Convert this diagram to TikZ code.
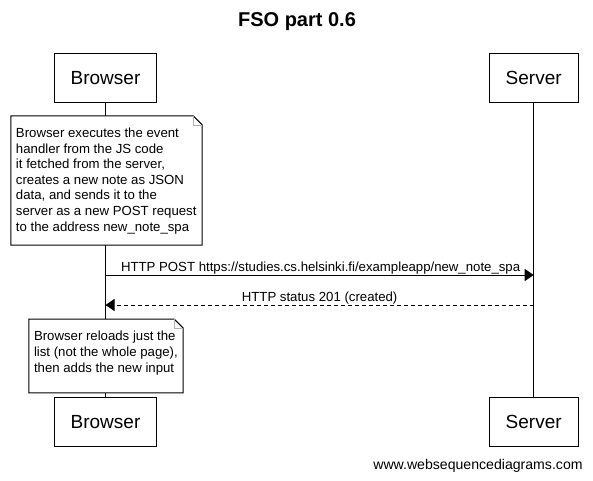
\documentclass[tikz,border=0pt]{standalone}
\usepackage{fontspec}
\setmainfont{Liberation Sans}
\usetikzlibrary{arrows.meta}
\begin{document}
\begin{tikzpicture}[x=1pt,y=-1pt,
  actor/.style={draw, line width=1pt, fill=white, inner sep=0pt, minimum height=49pt, font=\fontsize{19}{23}\selectfont},
  notebox/.style={fill=white, inner sep=0pt},
  noteline/.style={draw, line width=1pt, line join=miter},
  foldline/.style={draw=gray!60, line width=0.6pt},
  notetext/.style={anchor=north west, inner sep=0pt, align=left, font=\fontsize{13.2}{15.6}\selectfont},
  life/.style={line width=1pt},
  msg/.style={line width=1pt, -{Triangle[length=9pt,width=12pt]}},
  reply/.style={msg, dash pattern=on 4pt off 3pt},
  msglabel/.style={font=\fontsize{13.2}{15.6}\selectfont, inner sep=0pt}
]
\useasboundingbox (0,0) rectangle (593,480);
\fill[white] (0,0) rectangle (593,480);
\node[font=\fontsize{20}{24}\selectfont\bfseries] (title) at (297,22) {FSO part 0.6};
\node[actor, minimum width=102pt] (bt) at (105.5,77.7) {Browser};
\node[actor, minimum width=89pt] (st) at (533.7,77.7) {Server};
\node[actor, minimum width=102pt] (bb) at (105.5,421.7) {Browser};
\node[actor, minimum width=89pt] (sb) at (533.7,421.7) {Server};
\draw[life] (bt) -- (bb);
\draw[life] (st) -- (sb);
% note 1
\node[notebox, minimum width=191pt, minimum height=129pt] (n1) at (106.5,180.5) {};
\draw[noteline] (n1.north west) -- ([xshift=-9pt]n1.north east) -- ([yshift=-9pt]n1.north east) -- (n1.south east) -- (n1.south west) -- cycle;
\draw[foldline] ([xshift=-9pt]n1.north east) -- ([xshift=-9pt,yshift=-9pt]n1.north east) -- ([yshift=-9pt]n1.north east);
\node[notetext] (t1) at ([xshift=5pt,yshift=-12pt]n1.north west) {Browser executes the event\\handler from the JS code\\it fetched from the server,\\creates a new note as JSON\\data, and sends it to the\\server as a new POST request\\to the address new\_note\_spa};
% messages
\coordinate (y1) at (0,275);
\coordinate (y2) at (0,305);
\draw[msg] (bt |- y1) -- (st |- y1) node[msglabel, midway, anchor=base, yshift=3.5pt, xshift=1pt] (l1) {HTTP POST https://studies.cs.helsinki.fi/exampleapp/new\_note\_spa};
\draw[reply] (st |- y2) -- (bt |- y2) node[msglabel, midway, anchor=base, yshift=3.5pt] (l2) {HTTP status 201 (created)};
% note 2
\node[notebox, minimum width=154pt, minimum height=73.4pt] (n2) at (106,356) {};
\draw[noteline] (n2.north west) -- ([xshift=-9pt]n2.north east) -- ([yshift=-9pt]n2.north east) -- (n2.south east) -- (n2.south west) -- cycle;
\draw[foldline] ([xshift=-9pt]n2.north east) -- ([xshift=-9pt,yshift=-9pt]n2.north east) -- ([yshift=-9pt]n2.north east);
\node[notetext] (t2) at ([xshift=5pt,yshift=-12pt]n2.north west) {Browser reloads just the\\list (not the whole page),\\then adds the new input};
\node[font=\fontsize{14.1}{17}\selectfont] (wm) at (478,466) {www.websequencediagrams.com};
\end{tikzpicture}
\end{document}
